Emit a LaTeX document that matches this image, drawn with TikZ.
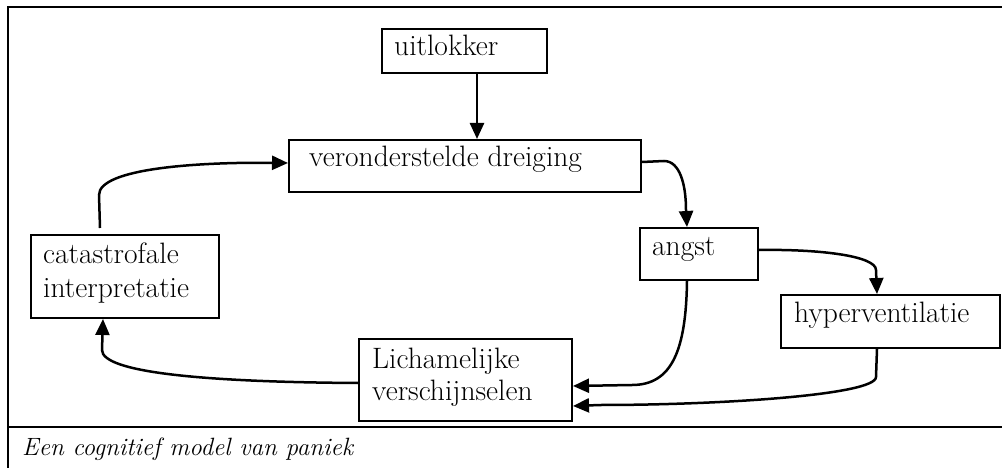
\documentclass[tikz,border=0pt]{standalone}
\usetikzlibrary{arrows.meta}
\begin{document}
\begin{tikzpicture}[x=1pt,y=-1pt,
  box/.style={draw=black,line width=2pt,inner sep=0pt,anchor=north west},
  lbl/.style={anchor=base west,inner sep=0pt,font=\fontsize{29.5}{34}\selectfont},
  arr/.style={line width=2.5pt,-{Triangle[length=16pt,width=14pt]}},
  frame/.style={line width=2pt}]
\useasboundingbox (0,0) rectangle (1002,468);
% frame
\coordinate (ftl) at (8,7);
\coordinate (ftr) at (1010,7);
\coordinate (fbl) at (8,475);
\coordinate (dl) at (8,427);
\coordinate (dr) at (1010,427);
\draw[frame] (fbl) -- (ftl) -- (ftr);
\draw[frame] (dl) -- (dr);
% boxes
\node[box,minimum width=165pt,minimum height=44pt] (u) at (381,28) {};
\node[box,minimum width=352pt,minimum height=52pt] (vd) at (288,139) {};
\node[box,minimum width=118pt,minimum height=52pt] (an) at (639,227) {};
\node[box,minimum width=219pt,minimum height=53pt] (hv) at (780,294) {};
\node[box,minimum width=188pt,minimum height=83pt] (ca) at (30,234) {};
\node[box,minimum width=213pt,minimum height=82pt] (li) at (358,338) {};
% texts
\node[lbl] (tu) at (394,56) {uitlokker};
\node[lbl] (tvd) at (309,167) {veronderstelde dreiging};
\node[lbl] (tan) at (652,255) {angst};
\node[lbl] (thv) at (794,322) {hyperventilatie};
\node[lbl] (tca1) at (43,263) {catastrofale};
\node[lbl] (tca2) at (43,297) {interpretatie};
\node[lbl] (tli1) at (372,368) {Lichamelijke};
\node[lbl] (tli2) at (372,400) {verschijnselen};
\node[lbl,font=\fontsize{25}{33}\selectfont\itshape] (cap) at (22,455) {Een cognitief model van paniek};
% connectors
\draw[arr] ([xshift=12.5pt]u.south) -- ([xshift=12.5pt]u.south |- vd.north);
\draw[arr] ([yshift=4pt]vd.east) -- (664,161) .. controls (680,161) and (686,185) .. (686,210) -- ([xshift=-12pt]an.north);
\draw[arr] ([yshift=4pt]an.east) .. controls (820,249) and (876,256) .. (876,270) -- ([xshift=-13.5pt]hv.north);
\draw[arr] ([xshift=-12pt]an.south) .. controls (686,350) and (672,385) .. (632,385) -- ([yshift=-6pt]li.east);
\draw[arr] ([xshift=-13.5pt]hv.south) -- (876,377) .. controls (876,395) and (720,405) .. (600,405) -- ([yshift=-26pt]li.east);
\draw[arr] ([yshift=-3pt]li.west) .. controls (200,382) and (102,372) .. (102,350) -- ([xshift=-22pt]ca.south);
\draw[arr] ([xshift=-25pt,yshift=6pt]ca.north) -- (99,195) .. controls (99,168) and (200,162) .. ([yshift=3pt]vd.west);
\end{tikzpicture}
\end{document}
